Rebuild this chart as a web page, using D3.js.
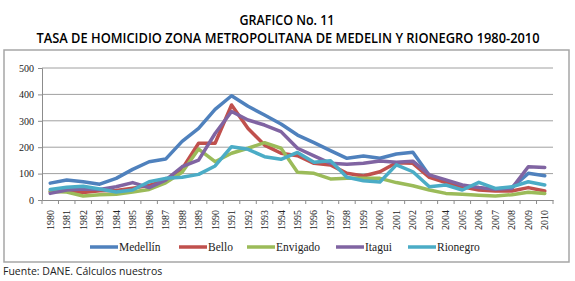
<!DOCTYPE html>
<html>
<head>
<meta charset="utf-8">
<script src="https://cdn.jsdelivr.net/npm/d3@7"></script>
<style>
  body { margin: 0; background: #fff; }
  svg { display: block; }
</style>
</head>
<body>
<div id="grafico"></div>
<script>
// datos
const anios = d3.range(1980, 2011).map(String);
const yTicks = [0, 100, 200, 300, 400, 500];

const medellin = [64, 76, 69, 60, 82, 116, 145, 155, 222, 271, 343, 395, 355, 322, 288, 246, 217, 187, 158, 167, 158, 174, 181, 93, 69, 54, 44, 42, 47, 101, 92];
const bello    = [32, 36, 28, 35, 36, 45, 55, 75, 118, 215, 215, 360, 271, 208, 177, 168, 139, 133, 101, 91, 107, 141, 139, 86, 66, 50, 38, 34, 34, 47, 34];
const envigado = [32, 30, 15, 20, 22, 30, 40, 65, 105, 193, 145, 177, 196, 217, 196, 105, 101, 80, 82, 82, 82, 66, 54, 38, 25, 22, 18, 15, 20, 29, 25];
const itagui   = [25, 38, 42, 40, 50, 66, 47, 75, 126, 151, 252, 335, 303, 284, 259, 196, 167, 139, 135, 139, 148, 143, 147, 95, 76, 57, 47, 41, 44, 126, 123];
const rionegro = [40, 48, 52, 42, 30, 38, 69, 82, 86, 97, 129, 202, 192, 164, 154, 180, 143, 149, 86, 73, 68, 133, 107, 50, 57, 38, 67, 44, 50, 69, 57];

const series = [
    { nombre: "Medellín", valores: medellin, color: "#4F81BD" },
    { nombre: "Bello",    valores: bello,    color: "#C0504D" },
    { nombre: "Envigado", valores: envigado, color: "#9BBB59" },
    { nombre: "Itagui",   valores: itagui,   color: "#8064A2" },
    { nombre: "Rionegro", valores: rionegro, color: "#4BACC6" }
];

const W = 575, H = 281;
const margin = { top: 68, right: 22, bottom: 81, left: 42 };
const width = W - margin.left - margin.right;
const height = H - margin.top - margin.bottom;

const svg = d3.select("#grafico").append("svg")
    .attr("width", W)
    .attr("height", H);

// titulo
svg.append("text")
    .attr("x", 287).attr("y", 25)
    .attr("text-anchor", "middle")
    .attr("font-family", "Open Sans")
    .attr("font-weight", 600)
    .attr("font-size", "14.5px")
    .attr("textLength", 95).attr("lengthAdjust", "spacingAndGlyphs")
    .text("GRAFICO No. 11");

svg.append("text")
    .attr("x", 288).attr("y", 43.3)
    .attr("text-anchor", "middle")
    .attr("font-family", "Open Sans")
    .attr("font-weight", 600)
    .attr("font-size", "14.5px")
    .attr("textLength", 503).attr("lengthAdjust", "spacingAndGlyphs")
    .text("TASA DE HOMICIDIO ZONA METROPOLITANA DE MEDELIN Y RIONEGRO 1980-2010");

// marco
svg.append("rect")
    .attr("x", 4).attr("y", 50)
    .attr("width", 565).attr("height", 212)
    .attr("fill", "none")
    .attr("stroke", "#a6a6a6")
    .attr("stroke-width", 1.5);

const g = svg.append("g")
    .attr("transform", `translate(${margin.left}, ${margin.top})`);

const x = d3.scaleBand()
    .domain(anios)
    .range([0, width]);

const y = d3.scaleLinear()
    .domain([0, 500])
    .range([height, 0]);

// lineas de grilla
g.append("g")
    .selectAll("line")
    .data(yTicks.slice(1))
    .enter()
    .append("line")
    .attr("x1", 0).attr("x2", width)
    .attr("y1", d => y(d)).attr("y2", d => y(d))
    .attr("stroke", "#a0a0a0")
    .attr("stroke-width", 1);

// eje y
const ejeY = g.append("g")
    .call(d3.axisLeft(y).tickValues(yTicks).tickSize(4).tickPadding(4));
ejeY.select(".domain").attr("stroke", "#8c8c8c");
ejeY.selectAll(".tick line").attr("stroke", "#8c8c8c");
ejeY.selectAll("text")
    .attr("font-family", "Liberation Serif")
    .attr("font-size", "10px")
    .attr("fill", "#222");

// eje x
const ejeX = g.append("g")
    .attr("transform", `translate(0, ${height})`)
    .call(d3.axisBottom(x).tickSize(0).tickSizeOuter(0));
ejeX.select(".domain").attr("stroke", "#8c8c8c");
ejeX.selectAll("text")
    .attr("font-family", "Liberation Serif")
    .attr("font-size", "10px")
    .attr("fill", "#222")
    .attr("text-anchor", "end")
    .attr("transform", "rotate(-90)")
    .attr("x", -10).attr("y", 0)
    .attr("dy", "0.35em");

// marcas entre categorias
ejeX.selectAll(".separador")
    .data(d3.range(anios.length + 1))
    .enter()
    .append("line")
    .attr("class", "separador")
    .attr("x1", i => i * x.step()).attr("x2", i => i * x.step())
    .attr("y1", 0).attr("y2", 4)
    .attr("stroke", "#8c8c8c");

// series
const linea = d3.line()
    .x((d, i) => x(anios[i]) + x.bandwidth() / 2)
    .y(d => y(d));

g.selectAll(".serie")
    .data(series)
    .enter()
    .append("path")
    .attr("class", "serie")
    .attr("d", d => linea(d.valores))
    .attr("fill", "none")
    .attr("stroke", d => d.color)
    .attr("stroke-width", 3.5)
    .attr("stroke-linejoin", "round")
    .attr("stroke-linecap", "round");

// leyenda
const leyendaX = [90, 179, 247, 336, 408];
const leyenda = svg.selectAll(".leyenda")
    .data(series)
    .enter()
    .append("g")
    .attr("class", "leyenda")
    .attr("transform", (d, i) => `translate(${leyendaX[i]}, 247)`);

leyenda.append("line")
    .attr("x1", 0).attr("x2", 28)
    .attr("y1", 0).attr("y2", 0)
    .attr("stroke", d => d.color)
    .attr("stroke-width", 3.5);

leyenda.append("text")
    .attr("x", 29).attr("y", 0)
    .attr("dy", "0.35em")
    .attr("font-family", "Liberation Serif")
    .attr("font-size", "11.5px")
    .attr("fill", "#222")
    .text(d => d.nombre);

// fuente
svg.append("text")
    .attr("x", 3).attr("y", 275)
    .attr("font-family", "Open Sans")
    .attr("font-size", "10.5px")
    .attr("fill", "#222")
    .text("Fuente: DANE. Cálculos nuestros");
</script>
</body>
</html>
